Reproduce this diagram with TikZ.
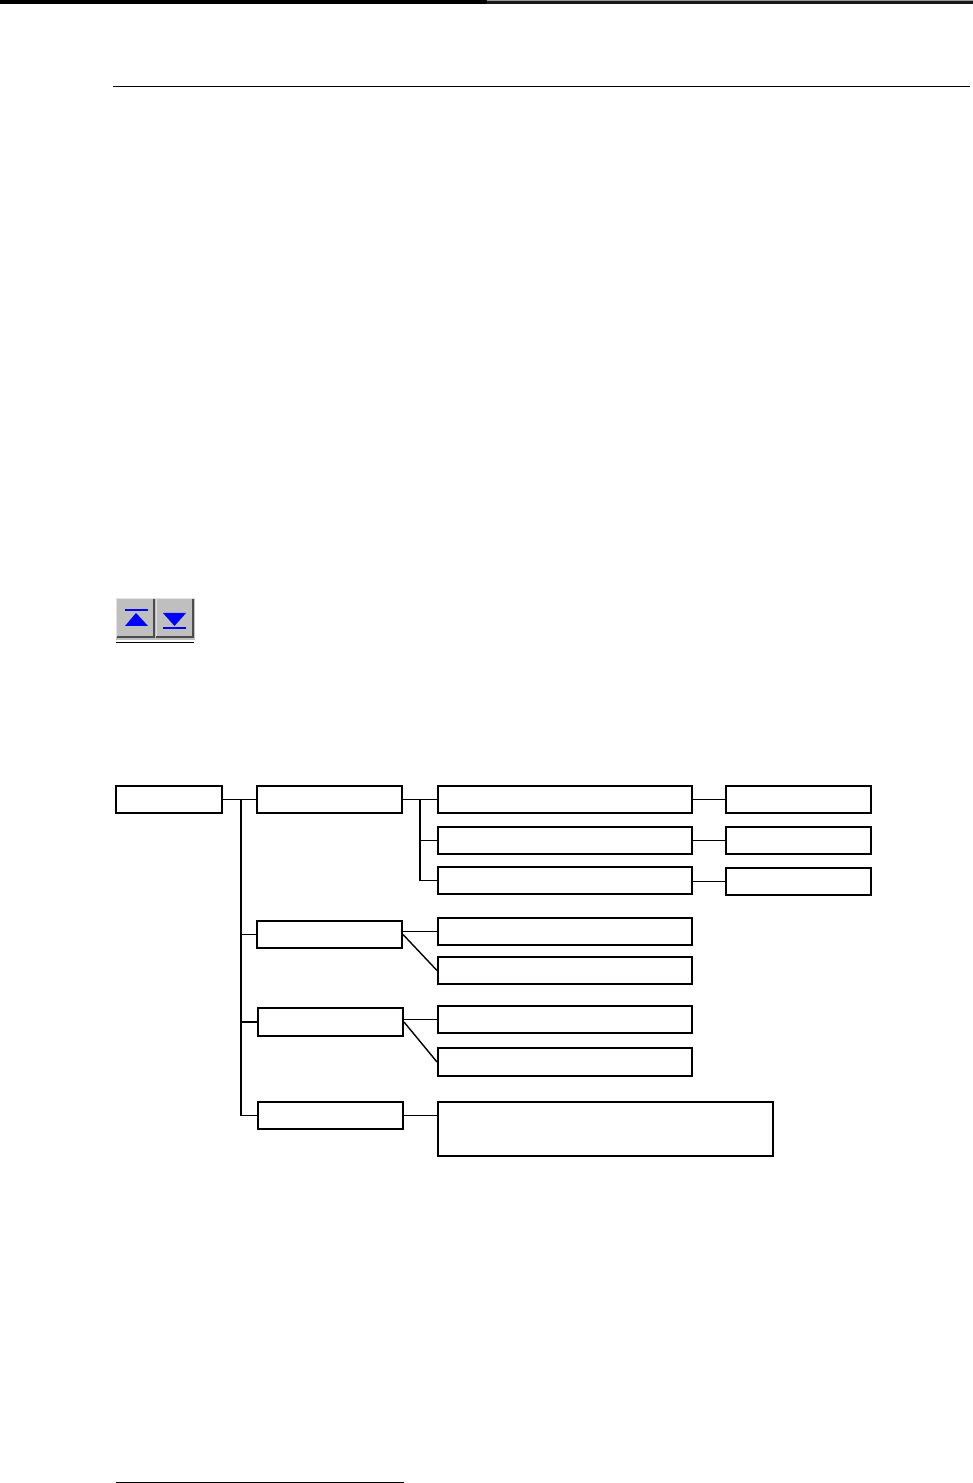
\documentclass[tikz,border=0pt]{standalone}
\begin{document}
\begin{tikzpicture}[treebox/.style={draw,line width=0.02cm,inner sep=0,minimum height=0.27cm},
rootbox/.style={treebox,minimum width=1.06cm},
midbox/.style={treebox,minimum width=1.45cm},
widebox/.style={treebox,minimum width=2.54cm},
link/.style={line width=0.014cm}]

\useasboundingbox (0,0) rectangle (9.73,14.83);

\fill (0,14.785) rectangle (4.87,14.83);
\fill[black!90] (4.87,14.785) rectangle (9.73,14.82);
\fill[black!40] (4.87,14.82) rectangle (9.73,14.83);
\draw[line width=0.008cm] (1.13,13.97)--(9.7,13.97);
\draw[line width=0.008cm] (1.16,0.01)--(4.04,0.01);

\fill[black!25] (1.16,8.43) rectangle (1.95,8.85);
\fill[black!12] (1.16,8.84) rectangle (1.95,8.85);
\fill[black!12] (1.16,8.46) rectangle (1.17,8.85);
\fill[black!12] (1.56,8.46) rectangle (1.57,8.85);
\fill[black!70] (1.53,8.45) rectangle (1.55,8.84);
\fill[black!70] (1.17,8.45) rectangle (1.55,8.47);
\fill[black!70] (1.92,8.45) rectangle (1.94,8.84);
\fill[black!70] (1.56,8.45) rectangle (1.94,8.47);
\fill[blue] (1.25,8.57)--(1.36,8.70)--(1.48,8.57)--cycle;
\fill[blue] (1.63,8.70)--(1.86,8.70)--(1.745,8.57)--cycle;
\draw[blue,line width=0.012cm] (1.25,8.73)--(1.48,8.73);
\draw[blue,line width=0.012cm] (1.63,8.55)--(1.86,8.55);
\draw[line width=0.008cm] (1.16,8.41)--(1.94,8.41);

\node[rootbox] (root) at (1.69,6.835) {};
\node[midbox] (memo) at (3.295,6.835) {};
\node[midbox] (hold) at (3.295,5.485) {};
\node[midbox,minimum height=0.28cm] (edit) at (3.305,4.61) {};
\node[midbox] (last) at (3.305,3.675) {};

\node[widebox] (itema) at (5.65,6.835) {};
\node[widebox] (itemb) at (5.65,6.425) {};
\node[widebox] (itemc) at (5.65,6.025) {};
\node[widebox] (itemd) at (5.65,5.515) {};
\node[widebox] (iteme) at (5.65,5.125) {};
\node[widebox] (itemf) at (5.65,4.635) {};
\node[widebox,minimum height=0.28cm] (itemg) at (5.65,4.21) {};
\node[treebox,minimum width=3.35cm,minimum height=0.54cm] (itemh) at (6.055,3.54) {};

\node[midbox] (enda) at (7.985,6.835) {};
\node[midbox] (endb) at (7.985,6.425) {};
\node[midbox] (endc) at (7.985,6.015) {};

\coordinate (trunk) at (2.41,6.835);
\coordinate (fork) at (4.2,6.835);

\draw[link] (root)--(memo);
\draw[link] (trunk)|-(hold.west);
\draw[link] (trunk)|-(edit.west);
\draw[link] (trunk)|-(last.west);

\draw[link] (memo)--(itema);
\draw[link] (fork)|-(itemb.west);
\draw[link] (fork)|-(itemc.west);

\draw[link] (itema)--(enda);
\draw[link] (itemb)--(endb);
\draw[link] (endc.west)--(endc.west-|itemc.east);

\draw[link] (itemd.west)--(itemd.west-|hold.east);
\draw[link] (hold.east)--(iteme.west);
\draw[link] (itemf.west)--(itemf.west-|edit.east);
\draw[link] (edit.east)--(itemg.west);
\draw[link] (last.east)--(last.east-|itemh.west);

\end{tikzpicture}
\end{document}
